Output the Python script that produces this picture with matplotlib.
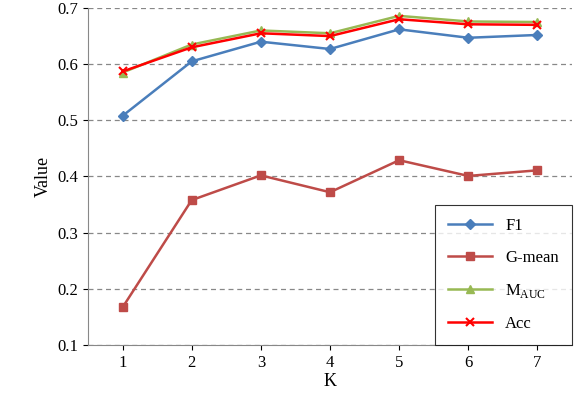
import matplotlib
matplotlib.use('Agg')
import matplotlib.pyplot as plt

plt.rcParams['font.family'] = ['Liberation Serif', 'DejaVu Serif']
plt.rcParams['mathtext.fontset'] = 'custom'
plt.rcParams['mathtext.rm'] = 'Liberation Serif'

k = [1, 2, 3, 4, 5, 6, 7]
f1 = [0.508, 0.605, 0.640, 0.627, 0.662, 0.647, 0.652]
gmean = [0.167, 0.358, 0.402, 0.372, 0.429, 0.401, 0.411]
mauc = [0.585, 0.635, 0.660, 0.655, 0.686, 0.676, 0.675]
acc = [0.587, 0.630, 0.655, 0.650, 0.680, 0.671, 0.670]

fig = plt.figure(figsize=(5.82, 4.13), dpi=100)
ax = fig.add_axes([88/582, 1 - 345/413, (572-88)/582, (345-8)/413])

ax.plot(k, f1, color='#4a7ebb', marker='D', markersize=5, lw=1.8, label='F1')
ax.plot(k, gmean, color='#be4b48', marker='s', markersize=6, lw=1.8, label='G-mean')
ax.plot(k, mauc, color='#98b954', marker='^', markersize=6, lw=1.8, label='M$_{\\mathrm{AUC}}$')
ax.plot(k, acc, color='#ff0000', marker='x', markersize=6, mew=1.5, lw=1.8, label='Acc')

ax.set_xlim(0.5, 7.5)
ax.set_ylim(0.1, 0.7)
ax.set_xticks(k)
ax.set_yticks([0.1, 0.2, 0.3, 0.4, 0.5, 0.6, 0.7])
ax.yaxis.grid(True, color='#888888', linestyle=(0, (4, 3)), lw=0.9)
ax.tick_params(labelsize=12, direction='out')
for s in ['top', 'right']:
    ax.spines[s].set_visible(False)
for s in ['left', 'bottom']:
    ax.spines[s].set_color('#888888')
ax.set_xlabel('K', fontsize=13, labelpad=2)
ax.set_ylabel('Value', fontsize=13)

leg = ax.legend(loc='lower right', fontsize=12, frameon=True, fancybox=False,
                edgecolor='black', borderpad=0.8, labelspacing=0.95,
                handlelength=2.6, borderaxespad=0)
leg.get_frame().set_linewidth(0.8)

fig.savefig('out.png', dpi=100)
